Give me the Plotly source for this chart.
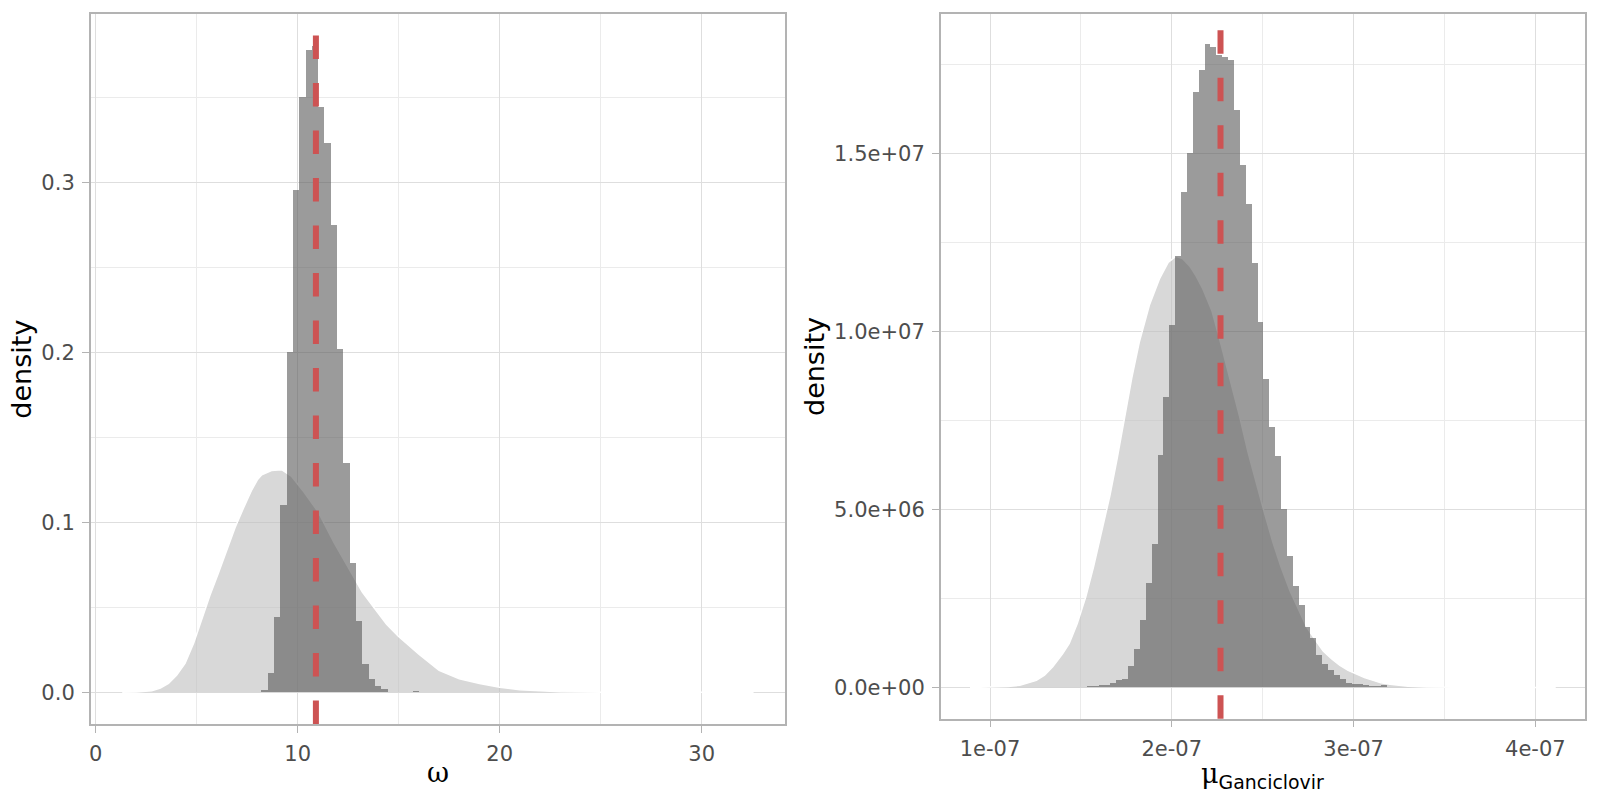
import plotly.graph_objects as go

# ---------------- data: left panel (omega) ----------------
omega_bin_start = 8.18
omega_bin_width = 0.313
omega_hist_density = [0.0015, 0.0115, 0.044, 0.110, 0.200, 0.295, 0.350, 0.3776,
                      0.380, 0.344, 0.323, 0.275, 0.2015, 0.135, 0.0758, 0.0416,
                      0.0166, 0.0074, 0.0036, 0.0018, 0.0003, 0.0, 0.0, 0.0, 0.0004]
omega_prior_x = [1.31, 2.0, 2.77, 3.2, 3.6, 4.0, 4.42, 4.85, 5.25, 5.65, 6.07, 6.5,
                 6.9, 7.3, 7.72, 8.0, 8.22, 8.7, 9.2, 9.7, 10.3, 11.02, 11.8, 12.67,
                 13.2, 13.83, 14.4, 14.98, 16.0, 17.0, 18.0, 19.0, 20.0, 21.0, 22.0,
                 23.0, 25.0, 28.0, 32.57]
omega_prior_d = [0.0, 0.0002, 0.001, 0.0025, 0.0053, 0.010, 0.017, 0.029, 0.043,
                 0.057, 0.070, 0.084, 0.097, 0.108, 0.119, 0.125, 0.128, 0.1305,
                 0.131, 0.127, 0.118, 0.106, 0.088, 0.070, 0.059, 0.049, 0.040,
                 0.033, 0.0225, 0.013, 0.008, 0.0052, 0.003, 0.0016, 0.0008,
                 0.0004, 0.0001, 0.00002, 0.0]
omega_mean = 10.9
omega_xticks = [0, 10, 20, 30]
omega_xminor = [5, 15, 25]
omega_yticks = [0.0, 0.1, 0.2, 0.3]
omega_ytick_labels = ["0.0", "0.1", "0.2", "0.3"]
omega_yminor = [0.05, 0.15, 0.25, 0.35]

# ---------------- data: right panel (mu Ganciclovir) ----------------
mu_bin_start = 1.5316e-7
mu_bin_width = 3.236e-9
mu_hist_density = [0.04e6, 0.04e6, 0.05e6, 0.07e6, 0.12e6, 0.21e6, 0.22e6, 0.59e6,
                   1.07e6, 1.89e6, 2.93e6, 4.03e6, 6.53e6, 8.16e6, 10.19e6, 12.11e6,
                   13.93e6, 15.0e6, 16.72e6, 17.34e6, 18.08e6, 17.98e6, 17.77e6,
                   17.71e6, 17.64e6, 16.21e6, 14.67e6, 13.59e6, 11.93e6, 10.25e6,
                   8.66e6, 7.30e6, 6.51e6, 5.0e6, 3.70e6, 2.84e6, 2.30e6, 1.69e6,
                   1.37e6, 0.91e6, 0.64e6, 0.47e6, 0.33e6, 0.23e6, 0.13e6, 0.10e6,
                   0.085e6, 0.06e6, 0.04e6, 0.04e6, 0.05e6, 0.01e6, 0.0, 0.0, 0.0,
                   0.015e6, 0.015e6, 0.0, 0.01e6, 0.01e6, 0.0, 0.0, 0.0, 0.0, 0.0,
                   0.0, 0.0, 0.01e6]
mu_prior_x = [0.89e-7, 1.0e-7, 1.1e-7, 1.164e-7, 1.255e-7, 1.30e-7, 1.345e-7, 1.40e-7,
              1.436e-7, 1.48e-7, 1.527e-7, 1.57e-7, 1.618e-7, 1.66e-7, 1.70e-7,
              1.729e-7, 1.78e-7, 1.821e-7, 1.877e-7, 1.932e-7, 1.98e-7, 2.024e-7,
              2.06e-7, 2.098e-7, 2.13e-7, 2.171e-7, 2.22e-7, 2.263e-7, 2.32e-7,
              2.374e-7, 2.42e-7, 2.466e-7, 2.51e-7, 2.558e-7, 2.60e-7, 2.65e-7,
              2.70e-7, 2.742e-7, 2.79e-7, 2.834e-7, 2.88e-7, 2.925e-7, 2.97e-7,
              3.017e-7, 3.06e-7, 3.108e-7, 3.15e-7, 3.2e-7, 3.25e-7, 3.3e-7, 3.4e-7,
              3.5e-7, 3.7e-7, 4.112e-7]
mu_prior_d = [0.0, 0.01e6, 0.03e6, 0.065e6, 0.2e6, 0.35e6, 0.58e6, 0.95e6, 1.24e6,
              1.8e6, 2.55e6, 3.4e6, 4.42e6, 5.4e6, 6.45e6, 7.3e6, 8.7e6, 9.7e6,
              10.75e6, 11.48e6, 11.95e6, 12.12e6, 12.05e6, 11.85e6, 11.6e6, 11.2e6,
              10.6e6, 9.8e6, 8.7e6, 7.6e6, 6.6e6, 5.7e6, 4.9e6, 4.05e6, 3.4e6,
              2.72e6, 2.15e6, 1.70e6, 1.33e6, 1.02e6, 0.8e6, 0.62e6, 0.48e6,
              0.37e6, 0.28e6, 0.2e6, 0.13e6, 0.09e6, 0.06e6, 0.035e6, 0.012e6,
              0.004e6, 0.001e6, 0.0]
mu_mean = 2.268e-7
mu_xticks = [1e-7, 2e-7, 3e-7, 4e-7]
mu_xtick_labels = ["1e-07", "2e-07", "3e-07", "4e-07"]
mu_xminor = [1.5e-7, 2.5e-7, 3.5e-7]
mu_yticks = [0.0, 5e6, 1e7, 1.5e7]
mu_ytick_labels = ["0.0e+00", "5.0e+06", "1.0e+07", "1.5e+07"]
mu_yminor = [2.5e6, 7.5e6, 1.25e7, 1.75e7]

omega_title = '<span style="font-family:DejaVu Serif">ω</span>'
mu_title = '<span style="font-family:DejaVu Serif">μ</span><sub>Ganciclovir</sub>'
y_title = "density"

# ---------------- styles ----------------
W, H = 1600, 800
PRIOR_FILL = "rgba(190,190,190,0.6)"
HIST_FILL = "rgba(89,89,89,0.6)"
RED = "#cd5353"
GRID = "#dedede"
GRID_MINOR = "#ebebeb"
BORDER = "#b3b3b3"
TICKFONT = dict(family="DejaVu Sans", size=21, color="#4d4d4d")
TITLEFONT = dict(family="DejaVu Sans", size=27, color="black")

OMEGA_XR = [-0.25, 34.14]
OMEGA_YR = [-0.0186, 0.3988]
MU_XR = [0.7288e-7, 4.273e-7]
MU_YR = [-0.877e6, 18.92e6]

L_DOM_X = [90.7 / W, 785.3 / W]
L_DOM_Y = [1 - 724 / H, 1 - 14.3 / H]
R_DOM_X = [940.7 / W, 1585 / W]
R_DOM_Y = [1 - 718.7 / H, 1 - 14.3 / H]


def bin_centers(start, width, n):
    return [start + width * (i + 0.5) for i in range(n)]


fig = go.Figure()

# prior densities on the base axes
fig.add_trace(go.Scatter(x=omega_prior_x, y=omega_prior_d, mode="lines",
                         fill="tozeroy", fillcolor=PRIOR_FILL,
                         line=dict(color="white", width=1.5),
                         xaxis="x", yaxis="y", showlegend=False, hoverinfo="skip"))
fig.add_trace(go.Scatter(x=mu_prior_x, y=mu_prior_d, mode="lines",
                         fill="tozeroy", fillcolor=PRIOR_FILL,
                         line=dict(color="white", width=1.5),
                         xaxis="x2", yaxis="y2", showlegend=False, hoverinfo="skip"))

# posterior histograms on overlaying axes (drawn above the densities)
fig.add_trace(go.Bar(x=bin_centers(omega_bin_start, omega_bin_width, len(omega_hist_density)),
                     y=omega_hist_density, width=omega_bin_width,
                     marker=dict(color=HIST_FILL, line=dict(width=0)),
                     xaxis="x3", yaxis="y3", showlegend=False))
fig.add_trace(go.Bar(x=bin_centers(mu_bin_start, mu_bin_width, len(mu_hist_density)),
                     y=mu_hist_density, width=mu_bin_width,
                     marker=dict(color=HIST_FILL, line=dict(width=0)),
                     xaxis="x4", yaxis="y4", showlegend=False))

# mean lines
for xr, yr, xv in [("x", "y domain", omega_mean), ("x2", "y2 domain", mu_mean)]:
    fig.add_shape(type="line", xref=xr, yref=yr, x0=xv, x1=xv, y0=0, y1=1,
                  line=dict(color=RED, width=6, dash="23.5px,24px"), layer="above")

# axis titles
fig.add_annotation(text=omega_title, xref="paper", yref="paper",
                   x=(L_DOM_X[0] + L_DOM_X[1]) / 2, y=1 - 772 / H,
                   xanchor="center", yanchor="middle", showarrow=False, font=TITLEFONT)
fig.add_annotation(text=mu_title, xref="paper", yref="paper",
                   x=(R_DOM_X[0] + R_DOM_X[1]) / 2, y=1 - 775 / H,
                   xanchor="center", yanchor="middle", showarrow=False, font=TITLEFONT)


def axis(**kw):
    base = dict(showgrid=True, gridcolor=GRID, gridwidth=1.4, zeroline=False,
                showline=True, linecolor=BORDER, linewidth=1.5, mirror=True,
                ticks="outside", ticklen=7, tickwidth=1.4, tickcolor=BORDER,
                tickfont=TICKFONT, tickmode="array", ticklabelstandoff=3,
                automargin=False)
    base.update(kw)
    return base


def hidden(**kw):
    base = dict(visible=False, showgrid=False, zeroline=False, fixedrange=True)
    base.update(kw)
    return base


fig.update_layout(
    width=W, height=H,
    margin=dict(l=0, r=0, t=0, b=0),
    paper_bgcolor="white", plot_bgcolor="white",
    barmode="overlay", bargap=0,
    showlegend=False,
    xaxis=axis(domain=L_DOM_X, anchor="y", range=OMEGA_XR,
               tickvals=omega_xticks, ticktext=[str(v) for v in omega_xticks],
               minor=dict(tickvals=omega_xminor, showgrid=True, gridcolor=GRID_MINOR,
                          gridwidth=0.8, ticks="")),
    yaxis=axis(domain=L_DOM_Y, anchor="x", range=OMEGA_YR,
               tickvals=omega_yticks, ticktext=omega_ytick_labels,
               minor=dict(tickvals=omega_yminor, showgrid=True, gridcolor=GRID_MINOR,
                          gridwidth=0.8, ticks=""),
               title=dict(text=y_title, font=TITLEFONT, standoff=2)),
    xaxis2=axis(domain=R_DOM_X, anchor="y2", range=MU_XR,
                tickvals=mu_xticks, ticktext=mu_xtick_labels,
                minor=dict(tickvals=mu_xminor, showgrid=True, gridcolor=GRID_MINOR,
                           gridwidth=0.8, ticks="")),
    yaxis2=axis(domain=R_DOM_Y, anchor="x2", range=MU_YR,
                tickvals=mu_yticks, ticktext=mu_ytick_labels,
                minor=dict(tickvals=mu_yminor, showgrid=True, gridcolor=GRID_MINOR,
                           gridwidth=0.8, ticks=""),
                title=dict(text=y_title, font=TITLEFONT, standoff=2)),
    xaxis3=hidden(overlaying="x", anchor="y3", range=OMEGA_XR),
    yaxis3=hidden(overlaying="y", anchor="x3", range=OMEGA_YR),
    xaxis4=hidden(overlaying="x2", anchor="y4", range=MU_XR),
    yaxis4=hidden(overlaying="y2", anchor="x4", range=MU_YR),
)

fig.write_html("out.html", config={"displayModeBar": False},
               post_script="document.body.style.margin='0px';document.body.style.overflow='hidden';")
